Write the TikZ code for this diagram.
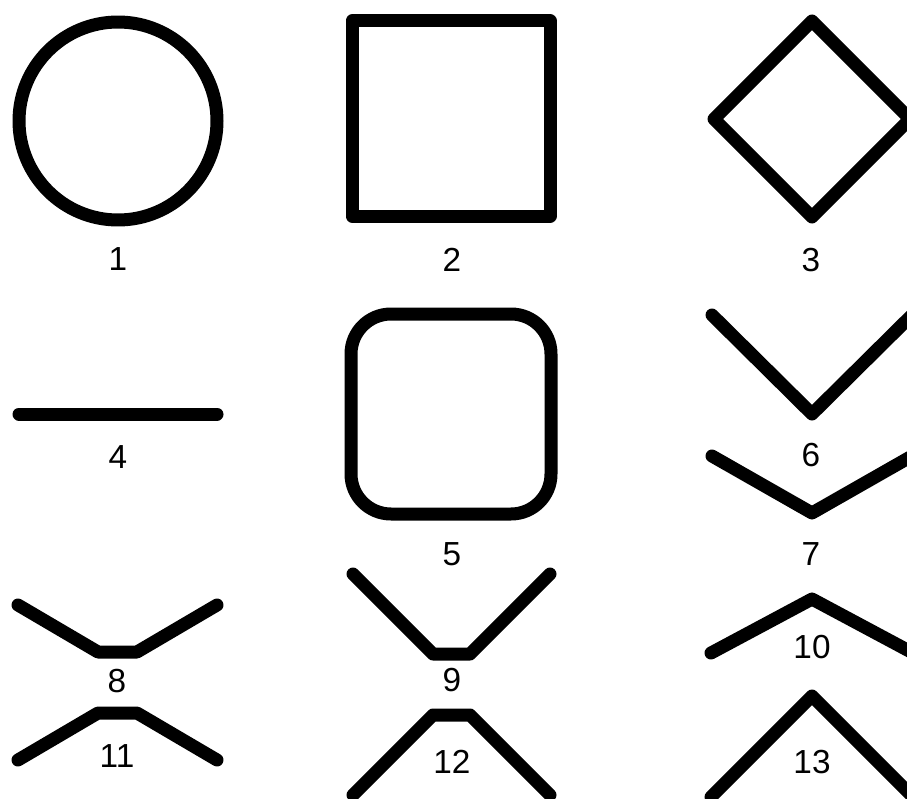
\documentclass[tikz,border=0pt]{standalone}
\usepackage{fontspec}
\setmainfont{Liberation Sans}
\begin{document}
\begin{tikzpicture}[x=0.75pt,y=-0.75pt,
  shapeline/.style={draw=black,line width=9.75pt,line cap=round,line join=round},
  lbl/.style={inner sep=0pt,font=\fontsize{25}{30}\selectfont}]
\useasboundingbox (0,0) rectangle (907,799);
\fill[white] (0,0) rectangle (907,799);
\clip (0,0) rectangle (907,799);
% 1 circle
\draw[shapeline] (118,121) circle[radius=99];
\node[lbl] (l1) at (118,259) {1};
% 2 square
\draw[shapeline] (352,21) rectangle (550,216);
\node[lbl] (l2) at (452,260) {2};
% 3 diamond
\draw[shapeline] (812,21) -- (910,119) -- (812,217) -- (714,119) -- cycle;
\node[lbl] (l3) at (811,260) {3};
% 4 line
\draw[shapeline] (19,414) -- (217,414);
\node[lbl] (l4) at (118,457) {4};
% 5 rounded square
\draw[shapeline,rounded corners=30pt] (351,314) rectangle (551,514);
\node[lbl] (l5) at (452,554) {5};
% 6 V
\draw[shapeline] (712,315) -- (812,414) -- (912,315);
\node[lbl] (l6) at (811,455) {6};
% 7 shallow V
\draw[shapeline] (712,456) -- (812,513) -- (912,456);
\node[lbl] (l7) at (811,554) {7};
% 8
\draw[shapeline] (18,605) -- (98,652) -- (137,652) -- (217,605);
\node[lbl] (l8) at (117,681) {8};
% 9
\draw[shapeline] (353,574) -- (433,654) -- (470,654) -- (550,574);
\node[lbl] (l9) at (452,680) {9};
% 10
\draw[shapeline] (711,653) -- (812,599) -- (913,653);
\node[lbl] (l10) at (812,647) {10};
% 11
\draw[shapeline] (18,760) -- (98,713) -- (137,713) -- (217,760);
\node[lbl] (l11) at (117,756) {11};
% 12
\draw[shapeline] (353,795) -- (433,715) -- (470,715) -- (550,795);
\node[lbl] (l12) at (452,762) {12};
% 13
\draw[shapeline] (711,797) -- (812,696) -- (913,797);
\node[lbl] (l13) at (812,762) {13};
\end{tikzpicture}
\end{document}
